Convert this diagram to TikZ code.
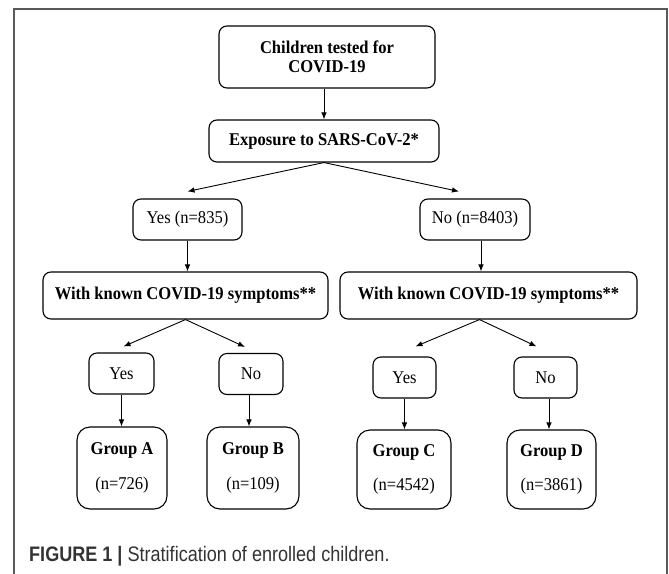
\documentclass[tikz,border=0pt]{standalone}
\usepackage{fontspec}
\setmainfont{Liberation Serif}[FakeStretch=0.92]
\newfontfamily\capfont{Liberation Sans}[FakeStretch=0.86]
\usetikzlibrary{arrows.meta,positioning}

\begin{document}
\begin{tikzpicture}[x=1pt,y=-1pt,
  box/.style={draw, rounded corners=8pt, line width=1.1pt, align=center, inner sep=0pt,
    font=\fontsize{18}{19.5}\selectfont},
  hbox/.style={box, font=\bfseries\fontsize{18}{19.5}\selectfont},
  grp/.style={box, rounded corners=13pt},
  arr/.style={-{Latex[length=7pt,width=5.5pt]}, line width=0.9pt},
]
\useasboundingbox (0,0) rectangle (669,573);

% frame
\draw[black!65, line width=1.5pt] (14,575) -- (14,9) -- (667,9) -- (667,575);

\node[hbox, minimum width=216pt, minimum height=62pt] (test) at (327,57) {Children tested for\\COVID-19};
\node[hbox, minimum width=230pt, minimum height=42pt] (expo) at (324,141) {Exposure to SARS-CoV-2*};

\node[box, minimum width=109pt, minimum height=41pt] (yes) at (187.5,219.5) {Yes (n=835)};
\node[box, minimum width=110pt, minimum height=41pt] (no) at (475,219.5) {No (n=8403)};

\node[hbox, minimum width=285pt, minimum height=47pt] (symL) at (185.5,295.5) {With known COVID-19 symptoms**};
\node[hbox, minimum width=297pt, minimum height=47pt] (symR) at (488.5,295.5) {With known COVID-19 symptoms**};

\node[box, minimum width=65pt, minimum height=41pt] (yA) at (121.5,373.5) {Yes};
\node[box, minimum width=64pt, minimum height=41pt] (nB) at (251,374) {No};
\node[box, minimum width=63pt, minimum height=41pt] (yC) at (404.5,377.5) {Yes};
\node[box, minimum width=63pt, minimum height=41pt] (nD) at (545.5,377.5) {No};

\node[grp, minimum width=90pt, minimum height=82pt] (gA) at (122,468) {\textbf{Group A}\\[15pt](n=726)};
\node[grp, minimum width=92pt, minimum height=82pt] (gB) at (253,468) {\textbf{Group B}\\[15pt](n=109)};
\node[grp, minimum width=94pt, minimum height=79pt] (gC) at (404,469.5) {\textbf{Group C}\\[15pt](n=4542)};
\node[grp, minimum width=89pt, minimum height=79pt] (gD) at (551.5,469.5) {\textbf{Group D}\\[15pt](n=3861)};

\node[anchor=base west, inner sep=0pt, text=black!80, font=\capfont\fontsize{21}{24}\selectfont] (cap) at (29,561)
  {\textbf{FIGURE 1 |} Stratification of enrolled children.};

% connectors
\draw[arr] (expo.north |- test.south) -- (expo.north);
\draw[arr] (expo.south) -- ([yshift=7pt]yes.north);
\draw[arr] (expo.south) -- ([xshift=-16pt,yshift=7pt]no.north);
\draw[arr] (yes.south) -- (yes.south |- symL.north);
\draw[arr] ([xshift=6pt]no.south) -- ([xshift=6pt]no.south |- symR.north);
\draw[arr] (symL.south) -- ([xshift=2pt,yshift=6pt]yA.north);
\draw[arr] (symL.south) -- ([xshift=-6pt,yshift=6pt]nB.north);
\draw[arr] ([xshift=-9pt]symR.south) -- ([xshift=11pt,yshift=10pt]yC.north);
\draw[arr] ([xshift=-9pt]symR.south) -- ([xshift=-9pt,yshift=10pt]nD.north);
\draw[arr] (yA.south) -- (yA.south |- gA.north);
\draw[arr] ([xshift=-2pt]nB.south) -- ([xshift=-2pt]nB.south |- gB.north);
\draw[arr] (yC.south) -- (yC.south |- gC.north);
\draw[arr] ([xshift=3.5pt]nD.south) -- ([xshift=3.5pt]nD.south |- gD.north);

\end{tikzpicture}
\end{document}
